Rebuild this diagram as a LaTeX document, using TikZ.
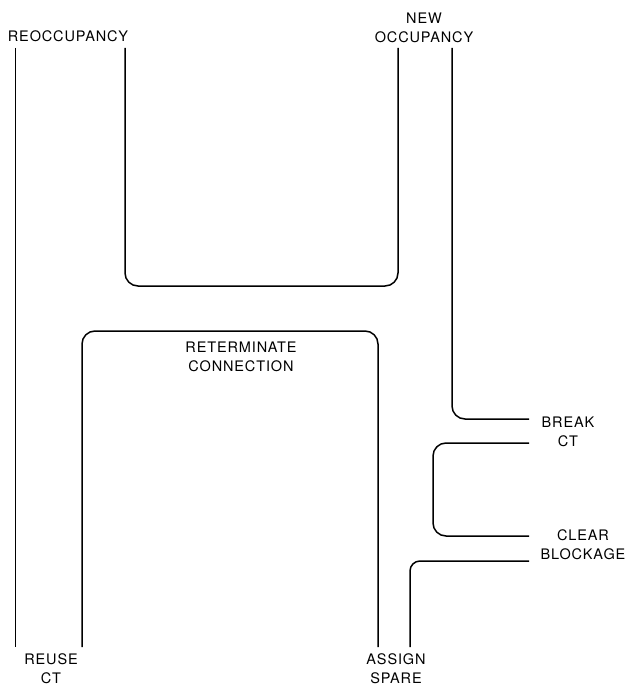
\documentclass[tikz,border=0pt]{standalone}
\usepackage{fontspec}
\setmainfont[LetterSpace=6]{TeX Gyre Heros}
\usetikzlibrary{positioning}

\begin{document}
\begin{tikzpicture}[x=1pt, y=-1pt,
    lbl/.style={inner sep=0pt, align=center, font=\fontsize{14.5}{19}\selectfont},
    route/.style={line width=1.5pt, rounded corners=13pt}]
    \useasboundingbox (0,0) rectangle (631,687);
    % labels
    \node[lbl] (reocc) at (68, 36) {REOCCUPANCY};
    \node[lbl] (newocc) at (424, 28) {NEW\\OCCUPANCY};
    \node[lbl] (reterm) at (241, 357) {RETERMINATE\\CONNECTION};
    \node[lbl] (break) at (568, 432) {BREAK\\CT};
    \node[lbl] (clear) at (583, 545) {CLEAR\\BLOCKAGE};
    \node[lbl] (reuse) at (51, 669) {REUSE\\CT};
    \node[lbl] (assign) at (396, 669) {ASSIGN\\SPARE};
    % line ends
    \coordinate (reocc-l) at (15.5, 48);
    \coordinate (reocc-r) at (125, 48);
    \coordinate (newocc-l) at (398, 48);
    \coordinate (newocc-r) at (452, 48);
    \coordinate (reuse-l) at (15.5, 647);
    \coordinate (reuse-r) at (82, 647);
    \coordinate (assign-l) at (378, 647);
    \coordinate (assign-r) at (410, 647);
    \coordinate (break-a) at (529, 419);
    \coordinate (break-b) at (529, 443);
    \coordinate (clear-a) at (529, 536);
    \coordinate (clear-b) at (529, 561);
    % routes
    \draw[route] (reocc-l) -- (reuse-l);
    \draw[route] (reocc-r) |- (261, 286) -| (newocc-l);
    \draw[route] (reuse-r) |- (230, 331) -| (assign-l);
    \draw[route] (newocc-r) |- (break-a);
    \draw[route] (break-b) -- (433, 443) -- (433, 536) -- (clear-a);
    \draw[route, rounded corners=10pt] (clear-b) -| (assign-r);
\end{tikzpicture}
\end{document}
